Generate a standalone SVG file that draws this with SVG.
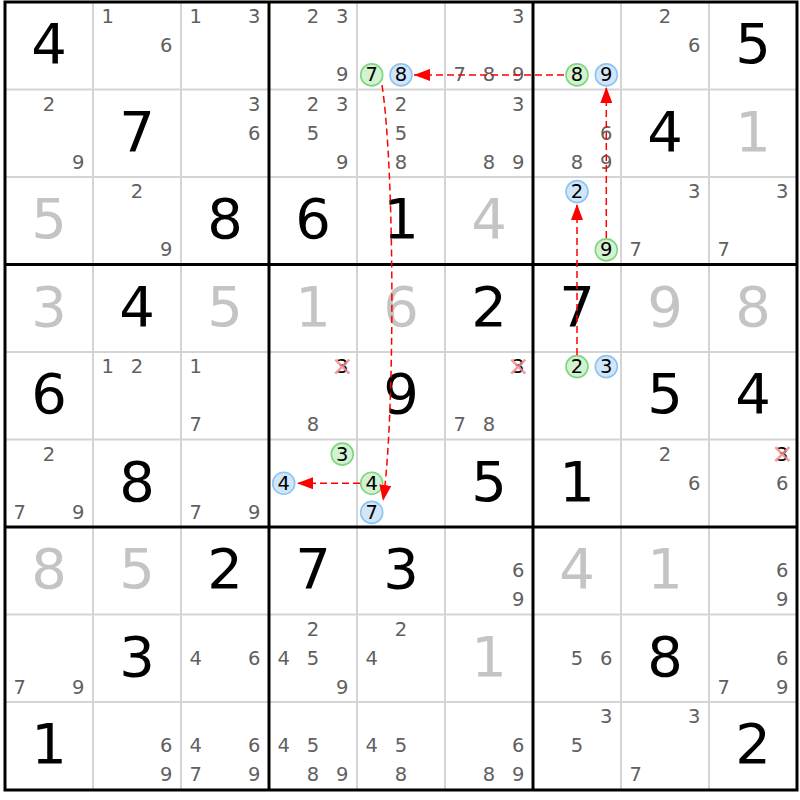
<svg xmlns="http://www.w3.org/2000/svg" width="800" height="800" viewBox="0 0 800 800">
<style>
text{font-family:"DejaVu Sans","Liberation Sans",sans-serif;text-anchor:middle}
.c{font-size:19.5px;fill:#606060}
.k{font-size:19.5px;fill:#000}
.g{font-size:56px;fill:#000}
.s{font-size:56px;fill:#c4c4c4}
.cg{fill:#d2f2d2;stroke:#7ed67e;stroke-width:1.6}
.cb{fill:#d2e6fa;stroke:#8ec4f2;stroke-width:1.6}
.x{stroke:#f28a8a;stroke-width:2.5;stroke-opacity:0.85}
.thin{stroke:#d4d4d4;stroke-width:2}
.thick{stroke:#000;stroke-width:3}
.lk{fill:none;stroke:#f00;stroke-width:1.5;stroke-dasharray:7 4;marker-end:url(#ah)}
</style>
<defs>
<marker id="ah" viewBox="0 0 16 12" refX="16" refY="6" markerUnits="userSpaceOnUse" markerWidth="16" markerHeight="12" orient="auto">
<path d="M0,0 L16,6 L0,12 z" fill="#f00"/>
</marker>
</defs>
<rect x="0" y="0" width="800" height="800" fill="#fff"/>
<g id="gridlines">
<path class="thin" d="M93 2V790M181 2V790M357 2V790M445 2V790M621 2V790M709 2V790M5 89.5H797M5 177H797M5 352H797M5 439.5H797M5 614.5H797M5 702H797"/>
<path class="thick" d="M269 2V790M533 2V790M5 264.5H797M5 527H797"/>
<rect x="5" y="2" width="792" height="788" fill="none" stroke="#000" stroke-width="3"/>
</g>
<g id="r0c0"><text class="g" x="49" y="63.2">4</text></g>
<g id="r0c1"><text class="c" x="107.7" y="23.1">1</text><text class="c" x="166.3" y="52.25">6</text></g>
<g id="r0c2"><text class="c" x="195.7" y="23.1">1</text><text class="c" x="254.3" y="23.1">3</text></g>
<g id="r0c3"><text class="c" x="313" y="23.1">2</text><text class="c" x="342.3" y="23.1">3</text><text class="c" x="342.3" y="81.4">9</text></g>
<g id="r0c4"><circle class="cg" cx="371.7" cy="74.9" r="11"/><text class="k" x="371.7" y="81.4">7</text><circle class="cb" cx="401" cy="74.9" r="11"/><text class="k" x="401" y="81.4">8</text></g>
<g id="r0c5"><text class="c" x="518.3" y="23.1">3</text><text class="c" x="459.7" y="81.4">7</text><text class="c" x="489" y="81.4">8</text><text class="c" x="518.3" y="81.4">9</text></g>
<g id="r0c6"><circle class="cg" cx="577" cy="74.9" r="11"/><text class="k" x="577" y="81.4">8</text><circle class="cb" cx="606.3" cy="74.9" r="11"/><text class="k" x="606.3" y="81.4">9</text></g>
<g id="r0c7"><text class="c" x="665" y="23.1">2</text><text class="c" x="694.3" y="52.25">6</text></g>
<g id="r0c8"><text class="g" x="753" y="63.2">5</text></g>
<g id="r1c0"><text class="c" x="49" y="110.6">2</text><text class="c" x="78.3" y="168.9">9</text></g>
<g id="r1c1"><text class="g" x="137" y="150.7">7</text></g>
<g id="r1c2"><text class="c" x="254.3" y="110.6">3</text><text class="c" x="254.3" y="139.75">6</text></g>
<g id="r1c3"><text class="c" x="313" y="110.6">2</text><text class="c" x="342.3" y="110.6">3</text><text class="c" x="313" y="139.75">5</text><text class="c" x="342.3" y="168.9">9</text></g>
<g id="r1c4"><text class="c" x="401" y="110.6">2</text><text class="c" x="401" y="139.75">5</text><text class="c" x="401" y="168.9">8</text></g>
<g id="r1c5"><text class="c" x="518.3" y="110.6">3</text><text class="c" x="489" y="168.9">8</text><text class="c" x="518.3" y="168.9">9</text></g>
<g id="r1c6"><text class="c" x="606.3" y="139.75">6</text><text class="c" x="577" y="168.9">8</text><text class="c" x="606.3" y="168.9">9</text></g>
<g id="r1c7"><text class="g" x="665" y="150.7">4</text></g>
<g id="r1c8"><text class="s" x="753" y="150.7">1</text></g>
<g id="r2c0"><text class="s" x="49" y="238.2">5</text></g>
<g id="r2c1"><text class="c" x="137" y="198.1">2</text><text class="c" x="166.3" y="256.4">9</text></g>
<g id="r2c2"><text class="g" x="225" y="238.2">8</text></g>
<g id="r2c3"><text class="g" x="313" y="238.2">6</text></g>
<g id="r2c4"><text class="g" x="401" y="238.2">1</text></g>
<g id="r2c5"><text class="s" x="489" y="238.2">4</text></g>
<g id="r2c6"><circle class="cb" cx="577" cy="191.6" r="11"/><text class="k" x="577" y="198.1">2</text><circle class="cg" cx="606.3" cy="249.9" r="11"/><text class="k" x="606.3" y="256.4">9</text></g>
<g id="r2c7"><text class="c" x="694.3" y="198.1">3</text><text class="c" x="635.7" y="256.4">7</text></g>
<g id="r2c8"><text class="c" x="782.3" y="198.1">3</text><text class="c" x="723.7" y="256.4">7</text></g>
<g id="r3c0"><text class="s" x="49" y="325.7">3</text></g>
<g id="r3c1"><text class="g" x="137" y="325.7">4</text></g>
<g id="r3c2"><text class="s" x="225" y="325.7">5</text></g>
<g id="r3c3"><text class="s" x="313" y="325.7">1</text></g>
<g id="r3c4"><text class="s" x="401" y="325.7">6</text></g>
<g id="r3c5"><text class="g" x="489" y="325.7">2</text></g>
<g id="r3c6"><text class="g" x="577" y="325.7">7</text></g>
<g id="r3c7"><text class="s" x="665" y="325.7">9</text></g>
<g id="r3c8"><text class="s" x="753" y="325.7">8</text></g>
<g id="r4c0"><text class="g" x="49" y="413.2">6</text></g>
<g id="r4c1"><text class="c" x="107.7" y="373.1">1</text><text class="c" x="137" y="373.1">2</text></g>
<g id="r4c2"><text class="c" x="195.7" y="373.1">1</text><text class="c" x="195.7" y="431.4">7</text></g>
<g id="r4c3"><text class="k" x="342.3" y="373.1">3</text><path class="x" d="M335.3 359.6L349.3 373.6M349.3 359.6L335.3 373.6"/><text class="c" x="313" y="431.4">8</text></g>
<g id="r4c4"><text class="g" x="401" y="413.2">9</text></g>
<g id="r4c5"><text class="k" x="518.3" y="373.1">3</text><path class="x" d="M511.3 359.6L525.3 373.6M525.3 359.6L511.3 373.6"/><text class="c" x="459.7" y="431.4">7</text><text class="c" x="489" y="431.4">8</text></g>
<g id="r4c6"><circle class="cg" cx="577" cy="366.6" r="11"/><text class="k" x="577" y="373.1">2</text><circle class="cb" cx="606.3" cy="366.6" r="11"/><text class="k" x="606.3" y="373.1">3</text></g>
<g id="r4c7"><text class="g" x="665" y="413.2">5</text></g>
<g id="r4c8"><text class="g" x="753" y="413.2">4</text></g>
<g id="r5c0"><text class="c" x="49" y="460.6">2</text><text class="c" x="19.7" y="518.9">7</text><text class="c" x="78.3" y="518.9">9</text></g>
<g id="r5c1"><text class="g" x="137" y="500.7">8</text></g>
<g id="r5c2"><text class="c" x="195.7" y="518.9">7</text><text class="c" x="254.3" y="518.9">9</text></g>
<g id="r5c3"><circle class="cg" cx="342.3" cy="454.1" r="11"/><text class="k" x="342.3" y="460.6">3</text><circle class="cb" cx="283.7" cy="483.25" r="11"/><text class="k" x="283.7" y="489.75">4</text></g>
<g id="r5c4"><circle class="cg" cx="371.7" cy="483.25" r="11"/><text class="k" x="371.7" y="489.75">4</text><circle class="cb" cx="371.7" cy="512.4" r="11"/><text class="k" x="371.7" y="518.9">7</text></g>
<g id="r5c5"><text class="g" x="489" y="500.7">5</text></g>
<g id="r5c6"><text class="g" x="577" y="500.7">1</text></g>
<g id="r5c7"><text class="c" x="665" y="460.6">2</text><text class="c" x="694.3" y="489.75">6</text></g>
<g id="r5c8"><text class="k" x="782.3" y="460.6">3</text><path class="x" d="M775.3 447.1L789.3 461.1M789.3 447.1L775.3 461.1"/><text class="c" x="782.3" y="489.75">6</text></g>
<g id="r6c0"><text class="s" x="49" y="588.2">8</text></g>
<g id="r6c1"><text class="s" x="137" y="588.2">5</text></g>
<g id="r6c2"><text class="g" x="225" y="588.2">2</text></g>
<g id="r6c3"><text class="g" x="313" y="588.2">7</text></g>
<g id="r6c4"><text class="g" x="401" y="588.2">3</text></g>
<g id="r6c5"><text class="c" x="518.3" y="577.25">6</text><text class="c" x="518.3" y="606.4">9</text></g>
<g id="r6c6"><text class="s" x="577" y="588.2">4</text></g>
<g id="r6c7"><text class="s" x="665" y="588.2">1</text></g>
<g id="r6c8"><text class="c" x="782.3" y="577.25">6</text><text class="c" x="782.3" y="606.4">9</text></g>
<g id="r7c0"><text class="c" x="19.7" y="693.9">7</text><text class="c" x="78.3" y="693.9">9</text></g>
<g id="r7c1"><text class="g" x="137" y="675.7">3</text></g>
<g id="r7c2"><text class="c" x="195.7" y="664.75">4</text><text class="c" x="254.3" y="664.75">6</text></g>
<g id="r7c3"><text class="c" x="313" y="635.6">2</text><text class="c" x="283.7" y="664.75">4</text><text class="c" x="313" y="664.75">5</text><text class="c" x="342.3" y="693.9">9</text></g>
<g id="r7c4"><text class="c" x="401" y="635.6">2</text><text class="c" x="371.7" y="664.75">4</text></g>
<g id="r7c5"><text class="s" x="489" y="675.7">1</text></g>
<g id="r7c6"><text class="c" x="577" y="664.75">5</text><text class="c" x="606.3" y="664.75">6</text></g>
<g id="r7c7"><text class="g" x="665" y="675.7">8</text></g>
<g id="r7c8"><text class="c" x="782.3" y="664.75">6</text><text class="c" x="723.7" y="693.9">7</text><text class="c" x="782.3" y="693.9">9</text></g>
<g id="r8c0"><text class="g" x="49" y="763.2">1</text></g>
<g id="r8c1"><text class="c" x="166.3" y="752.25">6</text><text class="c" x="166.3" y="781.4">9</text></g>
<g id="r8c2"><text class="c" x="195.7" y="752.25">4</text><text class="c" x="254.3" y="752.25">6</text><text class="c" x="195.7" y="781.4">7</text><text class="c" x="254.3" y="781.4">9</text></g>
<g id="r8c3"><text class="c" x="283.7" y="752.25">4</text><text class="c" x="313" y="752.25">5</text><text class="c" x="313" y="781.4">8</text><text class="c" x="342.3" y="781.4">9</text></g>
<g id="r8c4"><text class="c" x="371.7" y="752.25">4</text><text class="c" x="401" y="752.25">5</text><text class="c" x="401" y="781.4">8</text></g>
<g id="r8c5"><text class="c" x="518.3" y="752.25">6</text><text class="c" x="489" y="781.4">8</text><text class="c" x="518.3" y="781.4">9</text></g>
<g id="r8c6"><text class="c" x="606.3" y="723.1">3</text><text class="c" x="577" y="752.25">5</text></g>
<g id="r8c7"><text class="c" x="694.3" y="723.1">3</text><text class="c" x="635.7" y="781.4">7</text></g>
<g id="r8c8"><text class="g" x="753" y="763.2">2</text></g>
<g id="links">
<path class="lk" d="M564 74.9L414 74.9"/>
<path class="lk" d="M606.3 238L606.3 87"/>
<path class="lk" d="M577 355L577 204"/>
<path class="lk" d="M382 85C395 170 395 420 383 501"/>
<path class="lk" d="M360 483.25L297 483.25"/>
</g>
</svg>
